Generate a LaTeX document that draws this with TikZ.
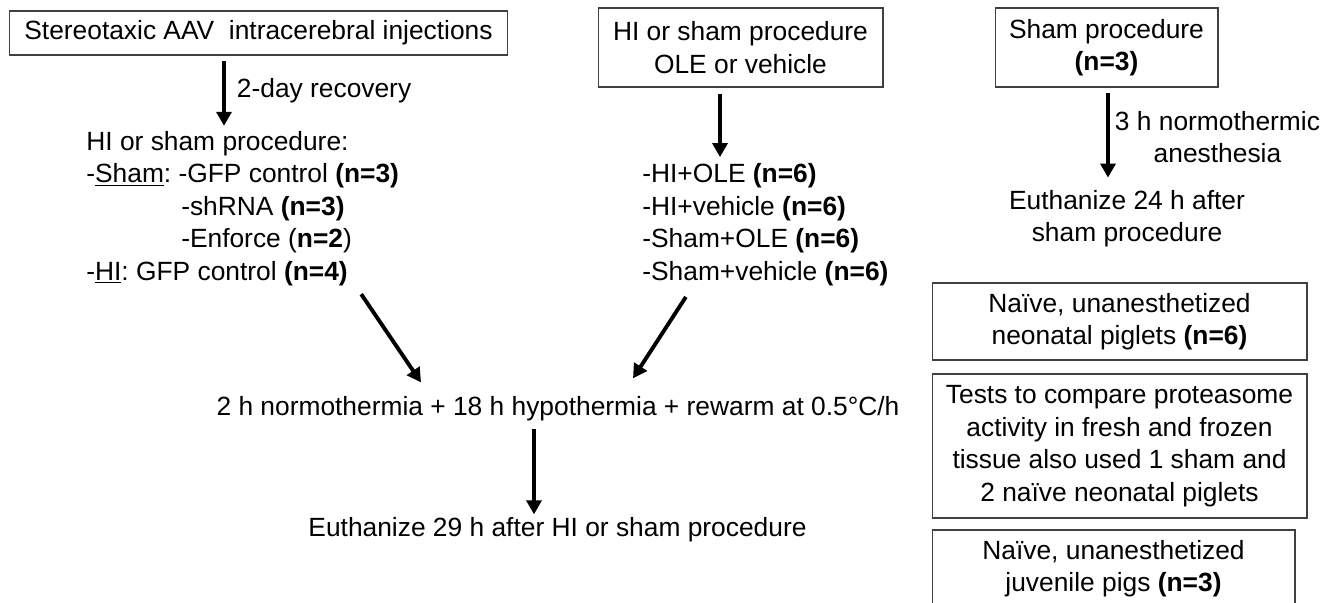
\documentclass[tikz,border=0pt]{standalone}
\usepackage{fontspec}
\setmainfont{Liberation Sans}
\usepackage{tikz}
\usetikzlibrary{arrows.meta}
\frenchspacing

\tikzset{
  box/.style={draw=black!75, line width=0.6pt, align=center, inner sep=0pt},
  plain/.style={align=left, inner sep=0pt},
  arr/.style={line width=2.2pt, -{Triangle[width=8.5pt,length=8pt]}},
}

\begin{document}
\begin{tikzpicture}[x=0.02cm, y=-0.02cm, font=\fontsize{15}{18.5}\selectfont]
        \useasboundingbox (0,0) rectangle (1338,602);
        \clip (0,0) rectangle (1338,602);

        % left column
        \node[box, minimum width=9.98cm, minimum height=0.88cm] (inj) at (258.5,33) {Stereotaxic AAV\ \ intracerebral injections};
        \node[plain, anchor=west] (aav) at (86,208.5) {HI or sham procedure:\\
            -\underline{Sham}: -GFP control \textbf{(n=3)}\\
            \phantom{-\underline{Sham}: }\hspace{1.5pt}-shRNA \textbf{(n=3)}\\
            \phantom{-\underline{Sham}: }\hspace{1.5pt}-Enforce (\textbf{n=2})\\
            -\underline{HI}: GFP control \textbf{(n=4)}};

        % middle column
        \node[box, minimum width=5.7cm, minimum height=1.58cm] (ole) at (740.5,47.5) {HI or sham procedure\\OLE or vehicle};
        \node[plain, anchor=west] (olegrp) at (642,224.5) {-HI+OLE \textbf{(n=6)}\\
            -HI+vehicle \textbf{(n=6)}\\
            -Sham+OLE \textbf{(n=6)}\\
            -Sham+vehicle \textbf{(n=6)}};
        \node[inner sep=0pt] (cool) at (558,409) {2 h normothermia + 18 h hypothermia + rewarm at 0.5°C/h};
        \node[inner sep=0pt] (euth) at (557.5,530) {Euthanize 29 h after HI or sham procedure};

        % right column
        \node[box, minimum width=4.46cm, minimum height=1.58cm] (sham) at (1106.5,47.5) {Sham procedure\\\textbf{(n=3)}};
        \node[inner sep=0pt, align=center] (euthsham) at (1127,218.5) {Euthanize 24 h after\\sham procedure};
        \node[box, minimum width=7.5cm, minimum height=1.54cm] (naive) at (1119.5,321.5) {Naïve, unanesthetized\\neonatal piglets \textbf{(n=6)}};
        \node[box, minimum width=7.5cm, minimum height=2.88cm] (tests) at (1119.5,446) {Tests to compare proteasome\\activity in fresh and frozen\\tissue also used 1 sham and\\2 naïve neonatal piglets};
        \node[box, minimum width=7.26cm, minimum height=1.54cm] (juv) at (1113.5,568.5) {Naïve, unanesthetized\\juvenile pigs \textbf{(n=3)}};

        \draw[arr, shorten >=0.1cm] ([shift={(-34.5,5)}]inj.south) coordinate (a1)
            -- node[anchor=west, inner sep=0pt, xshift=0.22cm, yshift=0.1cm] (recov) {2-day recovery} (a1 |- aav.north);
        \draw[arr, shorten >=0.12cm] ([shift={(-20.5,6)}]ole.south) coordinate (a2) -- (a2 |- olegrp.north);
        \draw[arr, shorten >=0.24cm] ([shift={(1.5,5)}]sham.south) coordinate (a3)
            -- node[anchor=west, inner sep=0pt, align=center, xshift=0.1cm, yshift=0.08cm] (anest) {3 h normothermic\\anesthesia} (a3 |- euthsham.north);
        \draw[arr] ([shift={(118.5,8)}]aav.south) -- ([shift={(-137,-14)}]cool.north);
        \draw[arr] ([shift={(-79.5,11)}]olegrp.south) -- ([shift={(75,-18)}]cool.north);
        \draw[arr, shorten >=0.06cm] ([shift={(-24,7)}]cool.south) coordinate (a6) -- (a6 |- euth.north);
\end{tikzpicture}
\end{document}
